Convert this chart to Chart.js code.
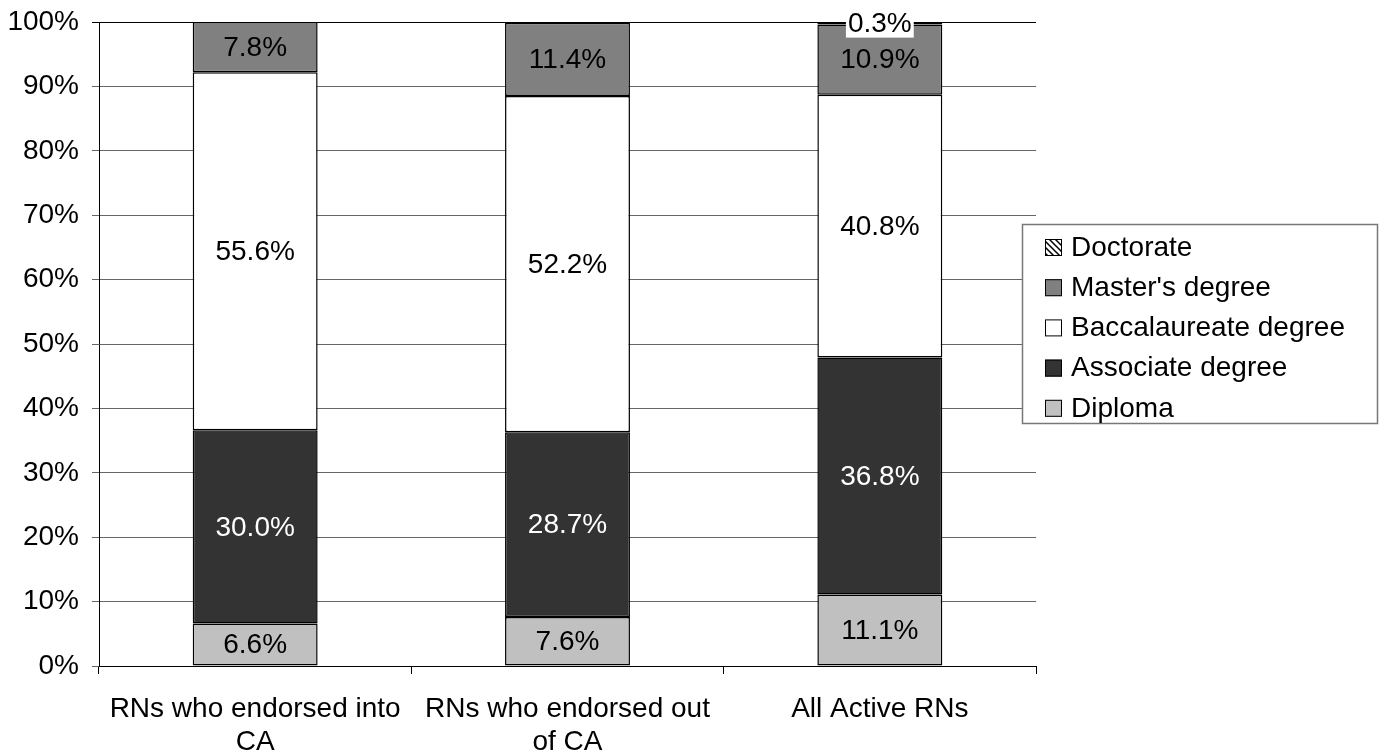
<!DOCTYPE html>
<html>
<head>
  <script src="https://cdn.jsdelivr.net/npm/chart.js@4/dist/chart.umd.min.js"></script>
  <style>
    body { margin: 0; background: #fff; }
    #wrap { width: 1382px; height: 754px; }
  </style>
  <script>
    var categories = [['RNs who endorsed into', 'CA'], ['RNs who endorsed out', 'of CA'], 'All Active RNs'];
    var diploma = [6.6, 7.6, 11.1];
    var associate = [30.0, 28.7, 36.8];
    var baccalaureate = [55.6, 52.2, 40.8];
    var masters = [7.8, 11.4, 10.9];
    var doctorate = [0, 0, 0.3];
    var yTicks = [0, 10, 20, 30, 40, 50, 60, 70, 80, 90, 100];

    var FONT = '"Liberation Sans", Arial, sans-serif';

    function hatch() {
      var c = document.createElement('canvas');
      c.width = 6; c.height = 6;
      var g = c.getContext('2d');
      g.fillStyle = '#fff';
      g.fillRect(0, 0, 6, 6);
      g.strokeStyle = '#000';
      g.lineWidth = 1.5;
      g.beginPath();
      g.moveTo(-2, -2); g.lineTo(8, 8);
      g.moveTo(-5, 1); g.lineTo(5, 11);
      g.moveTo(1, -5); g.lineTo(11, 5);
      g.stroke();
      return g.createPattern(c, 'repeat');
    }

    // labels in the middle of each segment
    var segLabels = {
      id: 'segLabels',
      afterDatasetsDraw: function (chart) {
        var ctx = chart.ctx;
        ctx.save();
        ctx.font = '28px ' + FONT;
        ctx.textAlign = 'center';
        ctx.textBaseline = 'middle';
        chart.data.datasets.forEach(function (ds, di) {
          var meta = chart.getDatasetMeta(di);
          meta.data.forEach(function (bar, i) {
            var v = ds.data[i];
            if (!v) return;
            var txt = v.toFixed(1) + '%';
            var cy = (bar.y + bar.base) / 2;
            if (ds.boxedLabel) {
              var w = ctx.measureText(txt).width;
              ctx.fillStyle = '#fff';
              ctx.fillRect(bar.x - w / 2 - 2, cy - 13, w + 4, 27);
            }
            ctx.fillStyle = ds.labelColor;
            ctx.fillText(txt, bar.x, cy + 1);
          });
        });
        ctx.restore();
      }
    };

    // boxed legend on the right, top item first
    var boxLegend = {
      id: 'boxLegend',
      afterDraw: function (chart) {
        var ctx = chart.ctx;
        ctx.save();
        ctx.fillStyle = '#fff';
        ctx.fillRect(1022, 224, 356, 200);
        ctx.strokeStyle = '#777';
        ctx.lineWidth = 1.5;
        ctx.strokeRect(1022.5, 224.5, 355, 199);
        ctx.font = '28px ' + FONT;
        ctx.textBaseline = 'middle';
        var items = chart.data.datasets.slice().reverse();
        items.forEach(function (ds, k) {
          var cy = 247 + k * 40.2;
          ctx.fillStyle = ds.backgroundColor;
          ctx.fillRect(1045, cy - 8, 17, 17);
          ctx.strokeStyle = '#000';
          ctx.lineWidth = 1;
          ctx.strokeRect(1045.5, cy - 7.5, 16, 16);
          ctx.fillStyle = '#000';
          ctx.fillText(ds.label, 1071, cy + 1);
        });
        ctx.restore();
      }
    };

    function drawGraph() {
      var ctx = document.getElementById('chart').getContext('2d');
      var series = [
        { label: 'Diploma', data: diploma, backgroundColor: '#c0c0c0', labelColor: '#000' },
        { label: 'Associate degree', data: associate, backgroundColor: '#333333', labelColor: '#fff' },
        { label: 'Baccalaureate degree', data: baccalaureate, backgroundColor: '#ffffff', labelColor: '#000' },
        { label: "Master's degree", data: masters, backgroundColor: '#808080', labelColor: '#000' },
        { label: 'Doctorate', data: doctorate, backgroundColor: hatch(), labelColor: '#000', boxedLabel: true }
      ];
      series.forEach(function (s) {
        s.borderColor = '#000';
        s.borderWidth = function (c) { return c.raw ? 1.5 : 0; };
        s.borderSkipped = false;
        s.barPercentage = 0.4;
        s.categoryPercentage = 1;
      });

      new Chart(ctx, {
        type: 'bar',
        data: { labels: categories, datasets: series },
        options: {
          responsive: false,
          animation: false,
          layout: { padding: { top: 22, right: 346, left: 0, bottom: 0 } },
          plugins: { legend: { display: false }, tooltip: { enabled: false } },
          scales: {
            x: {
              stacked: true,
              afterFit: function (s) { s.height = 88; s.paddingLeft = 0; s.paddingRight = 0; },
              grid: { offset: true, drawOnChartArea: false, color: '#000', tickLength: 8, tickColor: '#000' },
              border: { color: '#000', width: 1 },
              ticks: { color: '#000', font: { family: FONT, size: 28, lineHeight: 1.2 }, padding: 18, maxRotation: 0 }
            },
            y: {
              stacked: true,
              min: 0,
              max: 100,
              afterFit: function (s) { s.width = 99; s.paddingTop = 0; s.paddingBottom = 0; },
              afterBuildTicks: function (s) { s.ticks = yTicks.map(function (v) { return { value: v }; }); },
              grid: { color: function (c) { return c.tick && c.tick.value === 100 ? '#000' : '#666'; }, tickLength: 7, lineWidth: 1 },
              border: { color: '#000', width: 1 },
              ticks: {
                color: '#000',
                font: { family: FONT, size: 28 },
                padding: 13,
                callback: function (v) { return v + '%'; }
              }
            }
          }
        },
        plugins: [segLabels, boxLegend]
      });
    }

    window.onload = drawGraph;
  </script>
</head>
<body>
  <div id="wrap"><canvas id="chart" width="1382" height="754"></canvas></div>
</body>
</html>
